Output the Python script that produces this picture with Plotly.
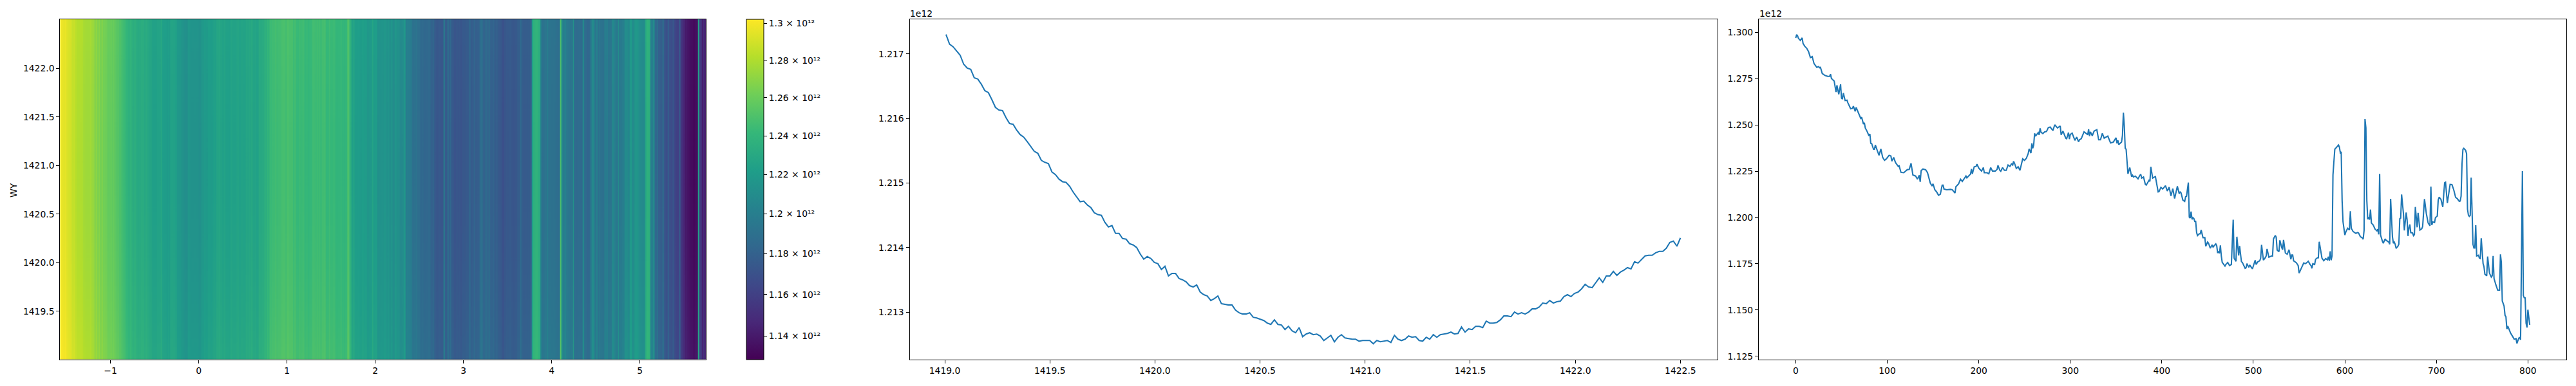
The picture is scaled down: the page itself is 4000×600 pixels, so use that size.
import numpy as np
import plotly.graph_objects as go

# Values in units of 1e9
wy_values = [1217.30,1217.15,1217.11,1217.05,1216.98,1216.84,1216.78,1216.76,1216.63,1216.61,1216.53,1216.43,1216.40,1216.29,1216.17,1216.13,1216.12,1216.01,1215.92,1215.91,1215.82,1215.75,1215.71,1215.64,1215.57,1215.49,1215.46,1215.35,1215.32,1215.30,1215.17,1215.13,1215.06,1215.02,1215.01,1214.95,1214.86,1214.79,1214.71,1214.72,1214.66,1214.62,1214.54,1214.51,1214.50,1214.39,1214.32,1214.34,1214.22,1214.22,1214.14,1214.13,1214.06,1214.04,1214.00,1213.90,1213.82,1213.86,1213.83,1213.77,1213.75,1213.66,1213.71,1213.56,1213.60,1213.60,1213.52,1213.50,1213.47,1213.41,1213.39,1213.42,1213.31,1213.27,1213.25,1213.18,1213.21,1213.25,1213.13,1213.12,1213.11,1213.11,1213.03,1212.99,1212.97,1212.97,1212.99,1212.92,1212.91,1212.89,1212.87,1212.83,1212.81,1212.88,1212.81,1212.80,1212.73,1212.78,1212.71,1212.68,1212.76,1212.62,1212.66,1212.68,1212.65,1212.66,1212.63,1212.56,1212.60,1212.64,1212.54,1212.61,1212.65,1212.60,1212.59,1212.58,
1212.58,1212.55,1212.56,1212.56,1212.56,1212.51,1212.56,1212.54,1212.55,1212.56,1212.53,1212.64,1212.58,1212.56,1212.58,1212.63,1212.61,1212.62,1212.56,1212.55,1212.61,1212.58,1212.65,1212.61,1212.65,1212.66,1212.67,1212.69,1212.66,1212.67,1212.77,1212.69,1212.74,1212.73,1212.78,1212.78,1212.76,1212.86,1212.83,1212.83,1212.84,1212.88,1212.94,1212.94,1212.93,1213.00,1212.97,1212.99,1212.97,1213.00,1213.05,1213.05,1213.08,1213.14,1213.13,1213.18,1213.14,1213.16,1213.17,1213.24,1213.27,1213.24,1213.29,1213.31,1213.36,1213.43,1213.39,1213.38,1213.46,1213.53,1213.46,1213.56,1213.56,1213.63,1213.57,1213.62,1213.65,1213.69,1213.67,1213.78,1213.76,1213.82,1213.87,1213.88,1213.88,1213.92,1213.94,1213.94,1213.99,1214.08,1214.10,1214.02,1214.15]
wy_first = 1419.006
wy_last = 1422.5

series_pairs = [
(0,1297.1),(1,1298.9),(2,1298.2),(3,1296.8),(5,1295.7),(7,1297.1),(8,1294.1),(10,1292.5),(12,1291.5),(14,1289.7),(16,1286.5),(18,1287.0),(20,1283.2),(23,1281.2),(25,1281.6),(26,1281.0),(27,1281.2),(29,1277.8),(32,1276.8),(35,1276.3),(37,1276.3),(38,1277.5),(39,1275.2),(42,1273.8),(44,1267.8),(45,1271.5),(47,1266.6),(49,1272.0),(50,1264.5),(51,1264.0),(52,1267.3),(54,1263.2),(56,1263.4),(57,1262.0),(60,1258.8),(62,1259.0),(63,1260.2),(65,1257.4),(66,1259.5),(69,1256.2),(71,1253.6),(72,1254.2),(74,1250.5),(75,1251.2),(76,1248.4),(78,1246.5),(80,1244.2),(81,1245.2),(82,1240.1),(83,1239.9),(85,1236.9),(86,1236.9),(87,1239.2),(89,1236.3),(91,1233.6),(93,1237.1),(95,1232.5),(97,1230.9),(99,1231.7),(102,1233.6),(104,1233.2),(105,1230.4),(107,1232.5),(109,1229.7),(112,1227.6),(113,1227.9),(115,1224.4),(118,1224.2),(122,1225.9),(124,1226.0),(126,1229.3),(128,1223.0),(131,1222.4),(133,1220.7),(135,1222.8),(136,1219.3),(137,1225.3),(139,1226.2),(142,1225.8),(144,1224.2),(147,1218.6),(149,1217.0),(150,1218.2),(152,1215.0),(154,1213.8),(156,1212.0),(158,1212.6),(160,1217.5),(161,1217.5),(162,1215.4),(165,1215.0),(169,1215.2),(171,1215.0),(174,1213.2),(175,1216.6),(178,1218.2),(180,1220.7),(182,1219.5),(186,1222.4),(187,1221.4),(191,1223.5),(192,1226.2),(193,1223.6),(195,1227.4),(197,1227.6),(198,1228.8),(200,1226.7),(203,1225.1),(205,1227.0),(206,1224.2),(208,1224.2),
(209,1224.2),(211,1223.6),(213,1227.0),(215,1225.1),(218,1225.1),(220,1226.0),(221,1228.2),(223,1225.5),(224,1225.0),(226,1227.0),(228,1225.5),(230,1225.5),(232,1228.4),(234,1227.6),(236,1229.2),(237,1228.1),(238,1230.4),(239,1229.4),(241,1226.5),(243,1227.4),(245,1225.5),(248,1231.7),(250,1230.9),(252,1232.0),(254,1234.6),(255,1237.1),(257,1234.8),(258,1240.1),(259,1237.4),(260,1239.2),(261,1245.5),(262,1244.0),(265,1245.9),(266,1244.7),(267,1248.2),(268,1246.1),(270,1245.4),(272,1246.3),(274,1246.5),(276,1248.6),(278,1248.9),(281,1247.0),(283,1250.1),(286,1248.4),(289,1249.5),(290,1244.7),(292,1246.7),(295,1242.9),(296,1242.6),(298,1245.9),(299,1242.4),(300,1244.9),(302,1245.6),(305,1241.7),(307,1243.5),(309,1240.9),(310,1242.0),(312,1242.6),(315,1246.3),(318,1245.2),(319,1244.7),(320,1247.7),(321,1244.0),(322,1246.3),(324,1244.2),(326,1246.7),(329,1247.5),(331,1242.0),(333,1242.0),(335,1245.5),(337,1242.9),(341,1244.0),(344,1240.3),(347,1240.8),(350,1243.1),(351,1240.1),(352,1241.7),(353,1239.4),(356,1240.8),(357,1244.4),(358,1256.7),(359,1249.6),(360,1237.4),(361,1236.9),(363,1223.6),(365,1227.0),(367,1222.1),(368,1222.8),(369,1221.9),(371,1222.4),(374,1220.9),(376,1222.8),(377,1223.3),(378,1221.3),(380,1221.9),(382,1217.9),(383,1217.5),(386,1220.1),(387,1219.5),(388,1227.4),(390,1221.3),(392,1221.9),(393,1222.1),(396,1213.8),(397,1214.0),(399,1216.3),(401,1215.4),(404,1217.2),(406,1214.3),(408,1216.4),(410,1211.7),(412,1215.6),(414,1210.3),(417,1216.9),(419,1212.9),
(420,1213.8),(421,1213.3),(423,1209.4),(425,1208.7),(426,1211.2),(427,1211.5),(429,1218.9),(430,1200.2),(431,1199.7),(432,1203.2),(433,1199.0),(434,1199.9),(435,1199.5),(436,1197.9),(437,1197.9),(438,1191.9),(439,1190.2),(441,1191.2),(442,1191.2),(443,1193.2),(445,1189.1),(447,1189.1),(448,1184.4),(450,1186.7),(451,1186.1),(453,1183.4),(455,1185.2),(456,1184.0),(459,1185.7),(460,1184.7),(461,1180.8),(462,1181.7),(463,1180.6),(464,1184.9),(465,1179.2),(466,1175.7),(469,1173.7),(470,1174.6),(472,1175.7),(474,1174.0),(476,1174.6),(478,1198.8),(479,1178.0),(481,1176.3),(482,1189.6),(484,1179.4),(485,1184.6),(487,1176.1),(488,1175.7),(491,1172.5),(492,1172.8),(493,1175.1),(495,1173.0),(496,1174.3),(499,1172.2),(501,1175.1),(502,1176.9),(503,1174.6),(505,1176.1),(507,1176.6),(508,1178.0),(509,1185.2),(511,1176.9),(513,1178.2),(514,1179.2),(515,1183.0),(517,1178.5),(520,1179.2),(521,1179.2),(522,1188.4),(524,1190.3),(525,1189.3),(526,1182.4),(528,1181.5),(529,1187.7),(531,1183.8),(532,1182.6),(533,1187.9),(535,1180.8),(537,1180.1),(539,1182.6),(541,1177.4),(542,1179.7),(543,1179.7),(544,1176.6),(547,1175.5),(549,1174.0),(550,1169.9),(553,1173.4),(555,1175.4),(557,1175.0),(560,1176.3),(562,1174.6),(563,1174.0),(564,1172.5),(565,1175.0),(567,1174.6),(568,1177.4),(570,1178.2),(571,1178.2),(572,1186.9),(575,1178.0),(577,1176.6),(579,1177.8),(581,1177.1),(582,1178.8),(583,1176.6),(584,1181.7),(585,1176.9),(586,1179.2),(587,1223.0),(589,1236.9),(591,1238.0),(593,1239.2),(594,1238.2),(595,1235.1),(596,1235.5),(597,1209.2),(598,1197.6),(600,1190.5),(601,1192.1),(603,1194.2),(605,1193.2),(606,1203.4),(607,1194.2),(609,1192.4),(612,1191.4),(614,1191.9),(615,1191.6),(617,1189.6),(619,1189.0),(620,1188.2),(621,1193.0),
(622,1253.2),(623,1248.4),(624,1209.2),(625,1199.0),(626,1200.2),(627,1198.8),(628,1204.3),(629,1197.0),(631,1195.9),(633,1193.7),(635,1192.8),(636,1193.7),(637,1190.9),(638,1223.6),(639,1190.5),(641,1187.2),(642,1186.1),(644,1188.4),(645,1187.7),(648,1186.7),(649,1185.5),(650,1210.1),(652,1189.5),(653,1186.1),(654,1186.7),(655,1185.5),(656,1183.3),(658,1184.5),(659,1185.6),(660,1199.3),(661,1199.7),(662,1212.4),(664,1202.2),(665,1193.0),(667,1202.7),(668,1198.8),(669,1190.0),(670,1194.4),(671,1196.2),(672,1191.8),(674,1191.6),(675,1190.2),(676,1190.7),(677,1205.7),(678,1200.5),(679,1194.7),(680,1202.5),(682,1193.2),(684,1193.9),(685,1195.1),(687,1210.0),(689,1202.2),(691,1197.0),(693,1195.5),(694,1216.7),(695,1195.9),(696,1197.6),(698,1197.3),(699,1199.9),(701,1200.8),(702,1209.4),(703,1211.0),(705,1209.8),(707,1205.7),(709,1218.8),(710,1219.1),(712,1207.8),(714,1213.8),(715,1217.9),(717,1217.8),(719,1214.9),(721,1210.9),(723,1210.1),(725,1208.7),(726,1208.9),(727,1211.5),(728,1228.8),(729,1236.8),(730,1237.4),(732,1236.3),(733,1234.5),(734,1204.5),(735,1201.3),(736,1200.6),(737,1201.1),(738,1221.6),(739,1201.1),(740,1185.5),(741,1183.5),(742,1183.5),(743,1195.8),(744,1179.2),(746,1179.6),(747,1178.0),(748,1177.8),(749,1188.8),(751,1175.1),(752,1173.4),(753,1169.3),(755,1168.5),(756,1178.9),(758,1169.9),(760,1167.8),(761,1168.5),(762,1179.2),(763,1167.0),(765,1163.6),(766,1162.1),(767,1160.7),(769,1160.7),(770,1180.1),(771,1175.7),(772,1154.9),(774,1152.0),(775,1147.1),(776,1146.3),(777,1139.7),(778,1141.3),(780,1138.5),(781,1137.6),(784,1135.1),(785,1134.2),(787,1134.5),(788,1131.9),(790,1134.7),(791,1135.3),(792,1133.9),(794,1225.1),(795,1157.8),(796,1156.6),(797,1156.5),(798,1142.8),(799,1140.5),(800,1150.1),(802,1142.0)]
index_values = [p[0] for p in series_pairs]
series_values = [p[1] for p in series_pairs]

heat_x_left = -1.571
heat_x_right = 5.75
n_columns = 803

cb_ticks = [1.14e12, 1.16e12, 1.18e12, 1.2e12, 1.22e12, 1.24e12, 1.26e12, 1.28e12, 1.3e12]
cb_labels = ["1.14", "1.16", "1.18", "1.2", "1.22", "1.24", "1.26", "1.28", "1.3"]
cb_min, cb_max = 1.1288e12, 1.3024e12

W, H = 4000, 600
TOP, BOT = 30.2, 561.4
FONT = dict(family="DejaVu Sans", size=13.9, color="black")
LINE = "#1f77b4"

def xdom(a, b):
    return [a / W, b / W]
ydom = [(H - BOT) / H, (H - TOP) / H]

wy = np.array(wy_values) * 1e9
wy_x = np.linspace(wy_first, wy_last, len(wy))
idx = np.array(index_values)
s = np.array(series_values) * 1e9
heat_x = heat_x_left + idx * (heat_x_right - heat_x_left) / n_columns
z = np.log10(np.outer(wy / wy.mean(), s))

fig = go.Figure()
fig.add_trace(go.Heatmap(
    x=heat_x, y=wy_x, z=z, colorscale="Viridis", zmin=np.log10(cb_min), zmax=np.log10(cb_max),
    xaxis="x", yaxis="y", hoverinfo="skip",
    colorbar=dict(
        x=1159.4 / W, xanchor="left", xpad=0, ypad=0, thickness=27.2,
        lenmode="fraction", len=(BOT - TOP) / H, y=ydom[0], yanchor="bottom",
        outlinecolor="black", outlinewidth=1, ticks="outside", ticklen=5, tickwidth=1,
        tickcolor="black", tickfont=FONT,
        tickmode="array", tickvals=list(np.log10(cb_ticks)),
        ticktext=[f"{t} × 10\u00b9\u00b2" for t in cb_labels],
    ),
))
fig.add_trace(go.Scatter(x=wy_x, y=wy, mode="lines", line=dict(color=LINE, width=2.08),
                         xaxis="x2", yaxis="y2", showlegend=False))
fig.add_trace(go.Scatter(x=idx, y=s, mode="lines", line=dict(color=LINE, width=2.08),
                         xaxis="x3", yaxis="y3", showlegend=False))

axis = dict(showline=True, linecolor="black", linewidth=1, mirror=True, showgrid=False, zeroline=False,
            ticks="outside", ticklen=5, tickwidth=1, tickcolor="black", tickfont=FONT, tickmode="array")

def tk(vals, labels):
    return dict(tickvals=vals, ticktext=labels)

wy_ticks = [1419.5, 1420.0, 1420.5, 1421.0, 1421.5, 1422.0]
fig.update_layout(
    width=W, height=H, autosize=False, margin=dict(l=0, r=0, t=0, b=0),
    paper_bgcolor="white", plot_bgcolor="white", showlegend=False, font=FONT,
    xaxis=dict(axis, domain=xdom(93.3, 1096.4), range=[heat_x_left, heat_x_right], anchor="y",
               **tk([-1, 0, 1, 2, 3, 4, 5], ["\u22121", "0", "1", "2", "3", "4", "5"])),
    yaxis=dict(axis, domain=ydom, range=[1419.006, 1422.504], anchor="x",
               **tk(wy_ticks, [f"{v:.1f}" for v in wy_ticks])),
    xaxis2=dict(axis, domain=xdom(1412.5, 2666.5), range=[1418.833, 1422.675], anchor="y2",
                **tk([1419 + .5 * i for i in range(8)], [f"{1419 + .5 * i:.1f}" for i in range(8)])),
    yaxis2=dict(axis, domain=ydom, range=[1.212268e12, 1.217535e12], anchor="x2",
                **tk([1.213e12, 1.214e12, 1.215e12, 1.216e12, 1.217e12], ["1.213", "1.214", "1.215", "1.216", "1.217"])),
    xaxis3=dict(axis, domain=xdom(2731, 3985), range=[-40.4, 842], anchor="y3",
                **tk(list(range(0, 900, 100)), [str(v) for v in range(0, 900, 100)])),
    yaxis3=dict(axis, domain=ydom, range=[1.12328e12, 1.30715e12], anchor="x3",
                **tk([1.125e12 + i * .025e12 for i in range(8)], [f"{1.125 + i * .025:.3f}" for i in range(8)])),
    annotations=[
        dict(text="WY", textangle=-90, xref="paper", yref="paper", x=20.5 / W, y=(H - 297) / H,
             showarrow=False, xanchor="center", yanchor="middle", font=FONT),
        dict(text="1e12", xref="paper", yref="paper", x=1412 / W, y=(H - 21) / H,
             showarrow=False, xanchor="left", yanchor="middle", xshift=-1, font=FONT),
        dict(text="1e12", xref="paper", yref="paper", x=2731 / W, y=(H - 21) / H,
             showarrow=False, xanchor="left", yanchor="middle", xshift=-1, font=FONT),
    ],
)

fig.write_html("out.html", config=dict(displayModeBar=False),
               post_script="document.body.style.margin='0';")
